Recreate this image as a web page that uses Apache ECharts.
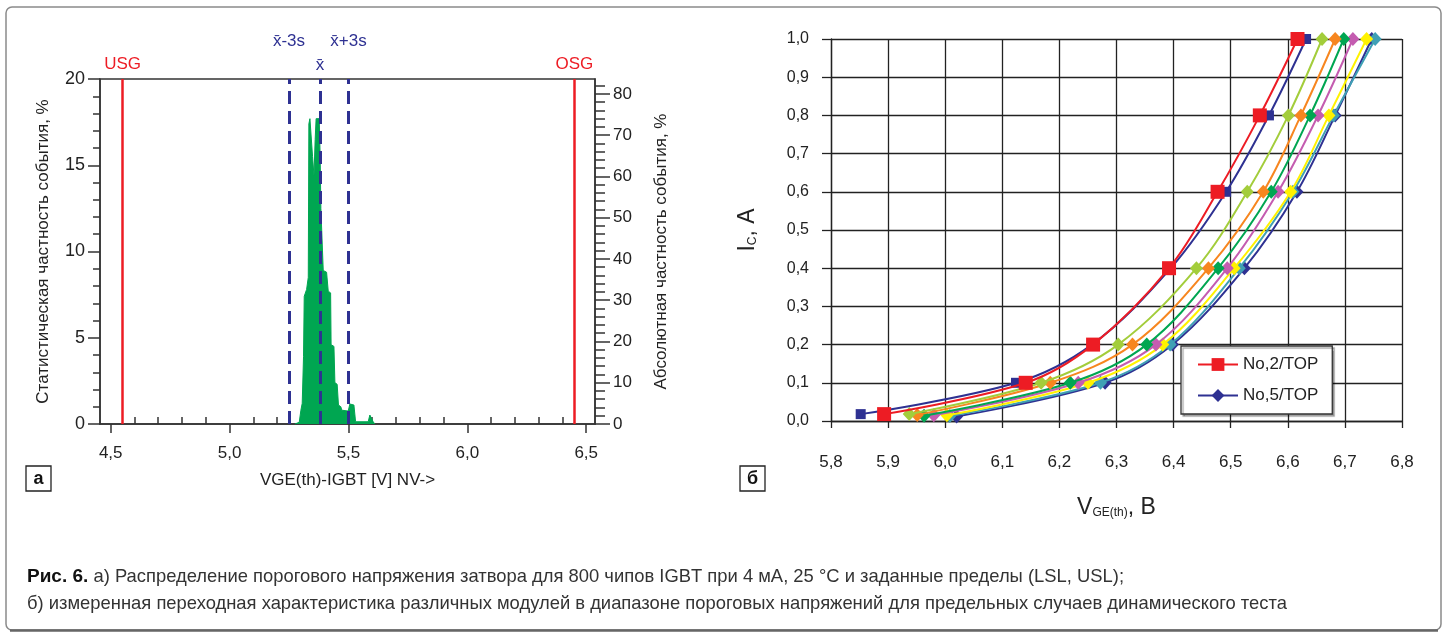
<!DOCTYPE html>
<html><head><meta charset="utf-8">
<script src="https://cdn.jsdelivr.net/npm/echarts@6/dist/echarts.min.js"></script>
<style>html,body{margin:0;padding:0;background:#fff}#c{width:1447px;height:641px}</style>
</head><body><div id="c"></div>
<script>
// ---------- Panel a: histogram ----------
const histV = [5.275, 5.293, 5.300, 5.3055, 5.311, 5.314, 5.324, 5.331, 5.3335, 5.338, 5.345, 5.349, 5.355, 5.360, 5.364, 5.377, 5.381, 5.384, 5.391, 5.394, 5.408, 5.415, 5.425, 5.427, 5.439, 5.443, 5.4525, 5.458, 5.468, 5.472, 5.499, 5.506, 5.523, 5.530, 5.583, 5.590, 5.597, 5.604, 5.611];
const histP = [0, 0.1, 0.8, 1.2, 3.9, 7.4, 7.8, 8.5, 17.4, 17.7, 17.6, 15.5, 14.4, 16.5, 17.7, 17.7, 15.5, 12.5, 12.4, 8.9, 8.8, 7.7, 7.6, 4.6, 4.5, 2.4, 2.3, 1.1, 1.0, 0.8, 0.75, 1.16, 1.1, 0.13, 0.13, 0.52, 0.45, 0.13, 0];
const specLimits = [4.55, 6.45];
const specLabels = ['USG', 'OSG'];
const statLines = [5.25, 5.38, 5.505];
const statLabels = ['x\u0304-3s', 'x\u0304', 'x\u0304+3s'];
const leftXMajor = [4.5, 5.0, 5.5, 6.0, 6.5];
const leftXMinor = [4.6, 4.7, 4.8, 4.9, 5.1, 5.2, 5.3, 5.4, 5.6, 5.7, 5.8, 5.9, 6.1, 6.2, 6.3, 6.4];
const absMajor = [0, 10, 20, 30, 40, 50, 60, 70, 80];
const absMinor = [2, 4, 6, 8, 12, 14, 16, 18, 22, 24, 26, 28, 32, 34, 36, 38, 42, 44, 46, 48, 52, 54, 56, 58, 62, 64, 66, 68, 72, 74, 76, 78, 82];

// ---------- Panel б: transfer curves ----------
const curveNames  = ['No,5/TOP', 'curve8', 'curve7', 'curve6', 'curve5', 'curve4', 'curve3', 'curve2', 'No,2/TOP'];
const curveColors = ['#2e3192', '#3fa0b5', '#fff200', '#c45cb0', '#00a651', '#f7861f', '#a3cd3b', '#2e3192', '#ed1c24'];
const curveSymbols = ['diamond', 'diamond', 'diamond', 'diamond', 'diamond', 'diamond', 'diamond', 'rect', 'rect'];
const curveV = [
  [6.020, 6.280, 6.398, 6.524, 6.616, 6.683, 6.747],
  [6.008, 6.272, 6.394, 6.515, 6.609, 6.680, 6.753],
  [6.003, 6.250, 6.381, 6.506, 6.605, 6.672, 6.738],
  [5.980, 6.233, 6.369, 6.494, 6.583, 6.653, 6.714],
  [5.963, 6.219, 6.353, 6.478, 6.571, 6.639, 6.698],
  [5.951, 6.184, 6.328, 6.461, 6.557, 6.623, 6.683],
  [5.937, 6.168, 6.303, 6.440, 6.529, 6.601, 6.660],
  [5.852, 6.124, 6.257, 6.395, 6.492, 6.567, 6.632],
  [5.893, 6.141, 6.259, 6.392, 6.477, 6.551, 6.617]
];
const curveI = [
  [0.012, 0.1, 0.2, 0.4, 0.6, 0.8, 1.0],
  [0.013, 0.1, 0.2, 0.4, 0.6, 0.8, 1.0],
  [0.015, 0.1, 0.2, 0.4, 0.6, 0.8, 1.0],
  [0.015, 0.1, 0.2, 0.4, 0.6, 0.8, 1.0],
  [0.014, 0.1, 0.2, 0.4, 0.6, 0.8, 1.0],
  [0.016, 0.1, 0.2, 0.4, 0.6, 0.8, 1.0],
  [0.018, 0.1, 0.2, 0.4, 0.6, 0.8, 1.0],
  [0.018, 0.1, 0.2, 0.4, 0.6, 0.8, 1.0],
  [0.018, 0.1, 0.2, 0.4, 0.6, 0.8, 1.0]
];
const legendNames = ['No,2/TOP', 'No,5/TOP'];

const caption1 = ' а) Распределение порогового напряжения затвора для 800 чипов IGBT при 4 мА, 25 °C и заданные пределы (LSL, USL);';
const caption2 = 'б) измеренная переходная характеристика различных модулей в диапазоне пороговых напряжений для предельных случаев динамического теста';

const FONT = '"Liberation Sans", Arial, sans-serif';
const AX = '#333';
const comma1 = v => v.toFixed(1).replace('.', ',');

const chart = echarts.init(document.getElementById('c'), null, {renderer: 'canvas'});

const markData = [];
specLimits.forEach((v, i) => markData.push({
  xAxis: v,
  lineStyle: {color: '#ed1c24', width: 2.5, type: 'solid'},
  label: {formatter: specLabels[i], color: '#ed1c24', fontSize: 17, distance: 6}
}));
const statDist = [29, 5, 29];
statLines.forEach((v, i) => markData.push({
  xAxis: v,
  lineStyle: {color: '#2e3192', width: 3, type: [13, 7]},
  label: {formatter: statLabels[i], color: '#2e3192', fontSize: 17, distance: statDist[i]}
}));

const series = [{
  type: 'line', xAxisIndex: 0, yAxisIndex: 0,
  data: histV.map((v, i) => [v, histP[i]]),
  symbol: 'none', lineStyle: {width: 1, color: '#00a651'},
  areaStyle: {color: '#00a651', opacity: 1},
  markLine: {silent: true, symbol: 'none', animation: false, data: markData}
}];
curveNames.forEach((n, k) => {
  const isRed = k === 8, isBlueSq = k === 7;
  series.push({
    name: n, type: 'line', xAxisIndex: 2, yAxisIndex: 3,
    data: curveV[k].map((v, i) => [v, curveI[k][i]]),
    smooth: 0.35,
    symbol: curveSymbols[k],
    symbolSize: isRed ? 14 : (isBlueSq ? 10 : [13, 14]),
    showAllSymbol: true,
    color: curveColors[k],
    itemStyle: {color: curveColors[k]},
    lineStyle: {width: 2, color: curveColors[k]},
    z: 3 + k
  });
});

const option = {
  animation: false,
  textStyle: {fontFamily: FONT},
  grid: [
    {left: 100, top: 79, width: 495, height: 345, show: true, borderColor: AX, borderWidth: 1.5, backgroundColor: 'transparent'},
    {left: 831, top: 39, width: 571, height: 382}
  ],
  legend: {
    data: legendNames, orient: 'vertical', left: 1181, top: 346,
    backgroundColor: '#fff', borderColor: '#333', borderWidth: 1.3,
    padding: [10, 14, 10, 16], itemWidth: 40, itemHeight: 16, itemGap: 14,
    textStyle: {fontSize: 17, color: '#222', fontFamily: FONT},
    shadowColor: 'rgba(0,0,0,0.35)', shadowOffsetX: 2, shadowOffsetY: 2, shadowBlur: 1
  },
  xAxis: [
    {gridIndex: 0, type: 'value', min: 4.455, max: 6.537,
      axisLine: {show: true, lineStyle: {color: AX, width: 1.5}},
      axisTick: {show: true, customValues: leftXMajor, length: 9, lineStyle: {color: AX, width: 1.5}},
      axisLabel: {customValues: leftXMajor, formatter: comma1, fontSize: 17, margin: 21, color: '#222'},
      splitLine: {show: false},
      name: 'VGE(th)-IGBT [V] NV->', nameLocation: 'middle', nameGap: 48,
      nameTextStyle: {fontSize: 17, color: '#222'}},
    {gridIndex: 0, type: 'value', min: 4.455, max: 6.537,
      axisLine: {show: false},
      axisTick: {show: true, customValues: leftXMinor, length: 7, lineStyle: {color: AX, width: 1.5}},
      axisLabel: {show: false}, splitLine: {show: false}},
    {gridIndex: 1, type: 'value', min: 5.8, max: 6.8, interval: 0.1,
      axisLine: {show: true, lineStyle: {color: '#222', width: 1.3}},
      axisTick: {show: true, length: 7, lineStyle: {color: '#222', width: 1.3}},
      axisLabel: {formatter: comma1, fontSize: 17, margin: 33, color: '#222'},
      splitLine: {show: true, lineStyle: {color: '#222', width: 1.3}},
      name: '{v|V}{s|GE(th)}{v|, В}', nameLocation: 'middle', nameGap: 72,
      nameTextStyle: {rich: {
        v: {fontSize: 23, color: '#222', fontFamily: FONT, verticalAlign: 'bottom', lineHeight: 26},
        s: {fontSize: 12, color: '#222', fontFamily: FONT, verticalAlign: 'bottom', lineHeight: 20}
      }}}
  ],
  yAxis: [
    {gridIndex: 0, type: 'value', min: 0, max: 20, interval: 5,
      axisLine: {show: true, lineStyle: {color: AX, width: 1.5}},
      axisTick: {show: true, length: 12, lineStyle: {color: AX, width: 1.5}},
      minorTick: {show: true, splitNumber: 5, length: 7, lineStyle: {color: AX, width: 1.5}},
      axisLabel: {fontSize: 18, margin: 15, color: '#222'},
      splitLine: {show: false},
      name: 'Статистическая частность события, %', nameLocation: 'middle', nameRotate: 90, nameGap: 48,
      nameTextStyle: {fontSize: 17, color: '#222'}},
    {gridIndex: 0, type: 'value', position: 'right', min: 0, max: 83.6,
      axisLine: {show: true, lineStyle: {color: AX, width: 1.5}},
      axisTick: {show: true, customValues: absMajor, length: 15, lineStyle: {color: AX, width: 1.5}},
      axisLabel: {customValues: absMajor, fontSize: 17, margin: 18, color: '#222'},
      splitLine: {show: false},
      name: 'Абсолютная частность события, %', nameLocation: 'middle', nameRotate: 90, nameGap: 58,
      nameTextStyle: {fontSize: 17, color: '#222'}},
    {gridIndex: 0, type: 'value', position: 'right', min: 0, max: 83.6,
      axisLine: {show: false},
      axisTick: {show: true, customValues: absMinor, length: 10, lineStyle: {color: AX, width: 1.5}},
      axisLabel: {show: false}, splitLine: {show: false}},
    {gridIndex: 1, type: 'value', min: 0, max: 1, interval: 0.1,
      axisLine: {show: true, lineStyle: {color: '#222', width: 1.3}},
      axisTick: {show: true, length: 9, lineStyle: {color: '#222', width: 1.3}},
      axisLabel: {formatter: comma1, fontSize: 16, margin: 22, color: '#222'},
      splitLine: {show: true, lineStyle: {color: '#222', width: 1.3}},
      name: '{m|I}{s|C}{m|, A}', nameLocation: 'middle', nameRotate: 90, nameGap: 72,
      nameTextStyle: {rich: {
        m: {fontSize: 23, color: '#222', fontFamily: FONT, verticalAlign: 'bottom', lineHeight: 26},
        s: {fontSize: 12, color: '#222', fontFamily: FONT, verticalAlign: 'bottom', lineHeight: 20}
      }}}
  ],
  series: series,
  graphic: [
    {type: 'rect', shape: {x: 6, y: 7, width: 1435, height: 623, r: 6}, silent: true,
      style: {fill: 'none', stroke: '#8a8a8a', lineWidth: 1.5}},
    {type: 'line', shape: {x1: 10, y1: 630.5, x2: 1438, y2: 630.5}, silent: true,
      style: {stroke: '#666', lineWidth: 2.5}},
    {type: 'rect', shape: {x: 26, y: 466, width: 25, height: 25}, silent: true,
      style: {fill: '#fff', stroke: '#222', lineWidth: 1.3}},
    {type: 'text', x: 38.5, y: 479, silent: true,
      style: {text: 'а', font: 'bold 18px ' + FONT, fill: '#111', align: 'center', verticalAlign: 'middle'}},
    {type: 'rect', shape: {x: 740, y: 466, width: 25, height: 25}, silent: true,
      style: {fill: '#fff', stroke: '#222', lineWidth: 1.3}},
    {type: 'text', x: 752.5, y: 479, silent: true,
      style: {text: 'б', font: 'bold 18px ' + FONT, fill: '#111', align: 'center', verticalAlign: 'middle'}},
    {type: 'text', x: 27, y: 577, silent: true,
      style: {text: '{b|Рис. 6.}' + caption1, font: '18.4px ' + FONT, fill: '#333', verticalAlign: 'middle',
        rich: {b: {font: 'bold 19px ' + FONT, fill: '#111'}}}},
    {type: 'text', x: 27, y: 604, silent: true,
      style: {text: caption2, font: '18.4px ' + FONT, fill: '#333', verticalAlign: 'middle'}}
  ]
};
chart.setOption(option);
</script>
</body></html>
